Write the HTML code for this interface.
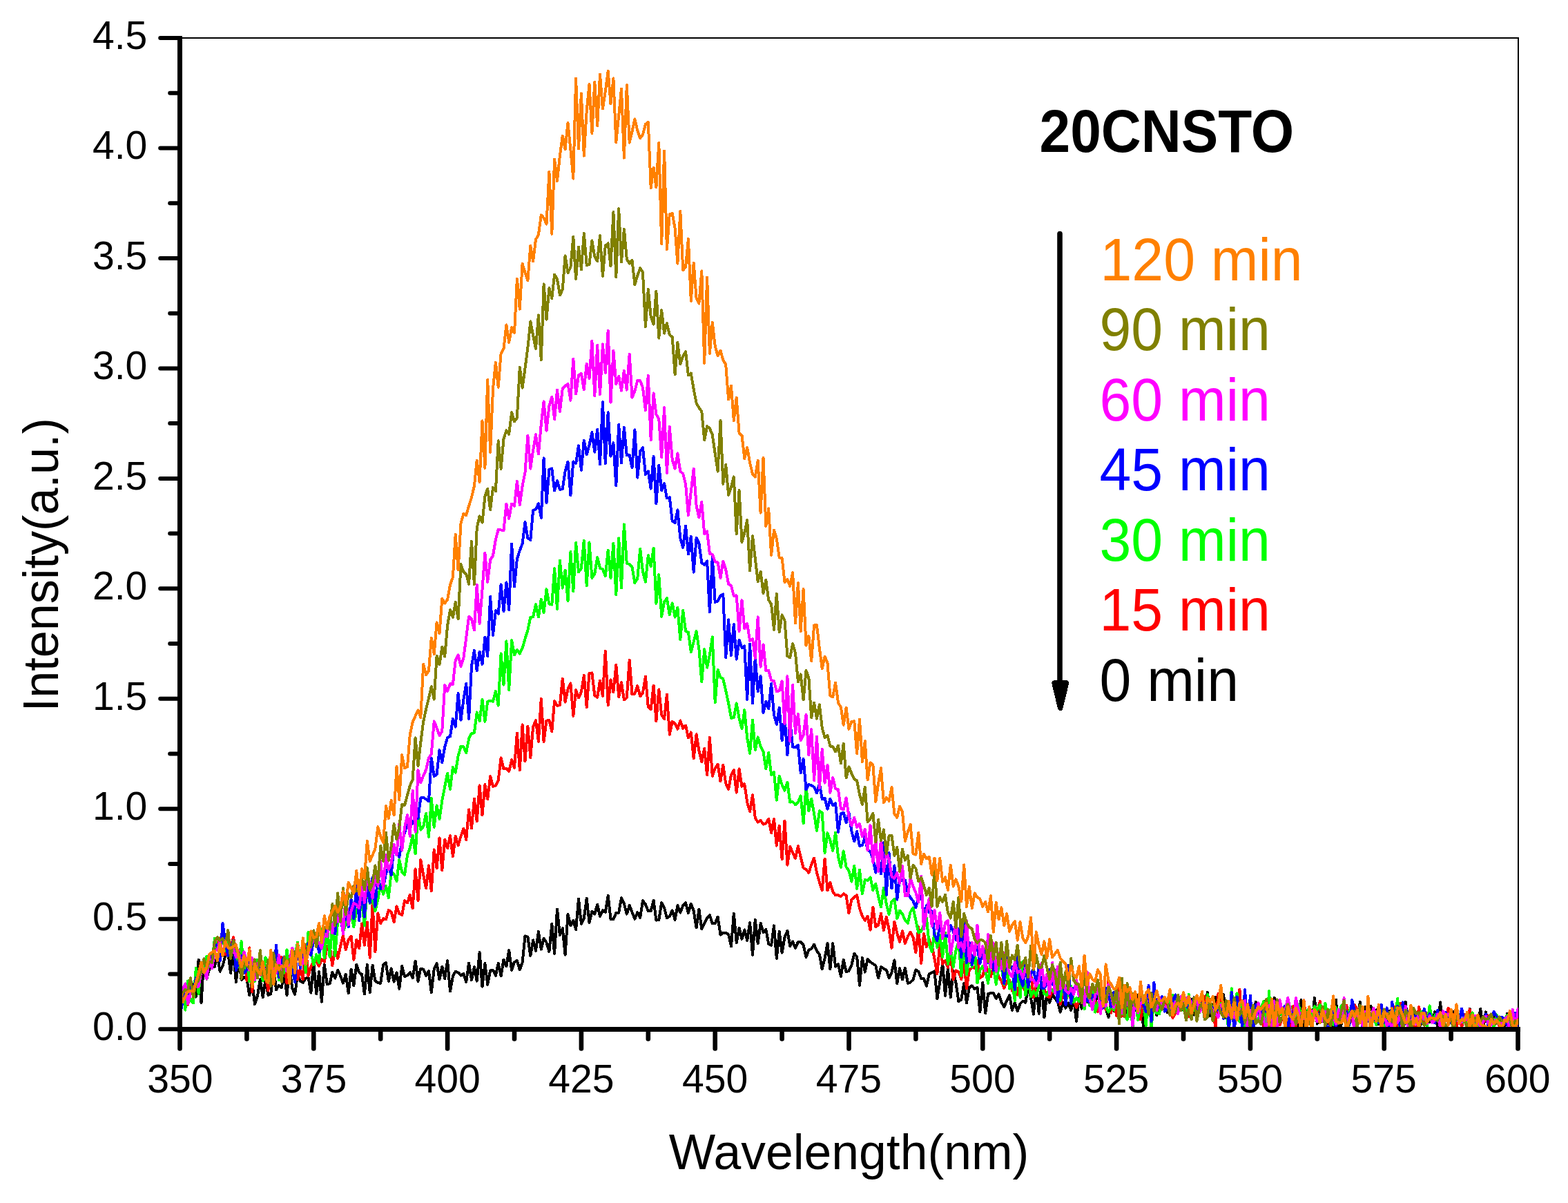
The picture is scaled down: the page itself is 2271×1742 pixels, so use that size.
<!DOCTYPE html>
<html lang="en"><head><meta charset="utf-8"><title>20CNSTO PL spectra</title>
<style>
html,body{margin:0;padding:0;background:#fff;}
body{width:2271px;height:1742px;overflow:hidden;}
svg{display:block;}
text{font-family:"Liberation Sans",Arial,Helvetica,sans-serif;}
</style></head><body>
<svg width="2271" height="1742" viewBox="0 0 2271 1742">
<rect width="2271" height="1742" fill="#fff"/>
<defs><clipPath id="c"><rect x="262" y="56" width="1937" height="1432"/></clipPath></defs>
<g shape-rendering="crispEdges" fill="#000">
<rect x="262" y="54" width="1938" height="2"/>
<rect x="2198" y="54" width="2" height="1436"/>
</g>
<g clip-path="url(#c)" shape-rendering="crispEdges">
<polyline points="260.5,1456.7 264.4,1434.6 268.3,1453.0 272.1,1435.5 276.0,1419.3 279.9,1430.5 283.8,1443.5 287.6,1389.8 291.5,1452.2 295.4,1388.4 299.3,1417.7 303.1,1403.1 307.0,1400.2 310.9,1399.9 314.8,1382.7 318.6,1406.8 322.5,1399.0 326.4,1383.6 330.3,1379.1 334.1,1409.3 338.0,1378.4 341.9,1422.4 345.8,1387.8 349.6,1418.8 353.5,1414.6 357.4,1417.0 361.3,1441.2 365.2,1421.8 369.0,1454.1 372.9,1442.6 376.8,1418.3 380.7,1444.0 384.5,1417.9 388.4,1440.9 392.3,1439.1 396.2,1398.5 400.0,1433.4 403.9,1426.8 407.8,1430.2 411.7,1407.8 415.5,1441.2 419.4,1401.9 423.3,1431.4 427.2,1439.7 431.0,1411.0 434.9,1420.9 438.8,1422.7 442.7,1416.8 446.5,1414.8 450.4,1437.6 454.3,1393.3 458.2,1439.5 462.1,1407.3 465.9,1450.6 469.8,1396.5 473.7,1425.1 477.6,1424.4 481.4,1407.8 485.3,1416.6 489.2,1404.9 493.1,1413.2 496.9,1423.6 500.8,1410.8 504.7,1438.0 508.6,1403.7 512.4,1427.2 516.3,1396.5 520.2,1408.5 524.1,1410.8 527.9,1439.4 531.8,1396.6 535.7,1437.1 539.6,1397.9 543.4,1420.3 547.3,1423.3 551.2,1423.7 555.1,1396.8 559.0,1394.1 562.8,1420.8 566.7,1402.4 570.6,1421.7 574.5,1408.4 578.3,1431.7 582.2,1398.9 586.1,1414.0 590.0,1412.4 593.8,1408.2 597.7,1415.9 601.6,1391.8 605.5,1420.9 609.3,1402.5 613.2,1403.6 617.1,1412.8 621.0,1406.2 624.8,1437.0 628.7,1403.5 632.6,1395.1 636.5,1418.4 640.3,1399.8 644.2,1417.1 648.1,1391.0 652.0,1435.6 655.9,1413.8 659.7,1406.8 663.6,1408.3 667.5,1412.5 671.4,1409.9 675.2,1421.9 679.1,1394.5 683.0,1419.2 686.9,1400.3 690.7,1420.5 694.6,1378.9 698.5,1428.7 702.4,1395.1 706.2,1425.9 710.1,1405.5 714.0,1404.8 717.9,1412.8 721.7,1395.2 725.6,1413.3 729.5,1389.7 733.4,1399.4 737.2,1376.1 741.1,1404.8 745.0,1393.3 748.9,1390.9 752.8,1404.4 756.6,1393.6 760.5,1355.3 764.4,1356.8 768.3,1383.9 772.1,1361.4 776.0,1376.8 779.9,1349.0 783.8,1374.7 787.6,1358.9 791.5,1364.8 795.4,1377.9 799.3,1337.8 803.1,1380.9 807.0,1316.6 810.9,1354.2 814.8,1344.3 818.6,1382.6 822.5,1323.9 826.4,1340.3 830.3,1332.9 834.1,1346.2 838.0,1301.8 841.9,1337.9 845.8,1329.8 849.7,1300.9 853.5,1336.2 857.4,1320.0 861.3,1323.6 865.2,1309.6 869.0,1327.1 872.9,1318.2 876.8,1320.9 880.7,1296.6 884.5,1331.2 888.4,1331.2 892.3,1322.2 896.2,1321.7 900.0,1300.1 903.9,1308.7 907.8,1323.5 911.7,1311.1 915.5,1320.9 919.4,1330.8 923.3,1321.3 927.2,1328.8 931.0,1304.2 934.9,1309.6 938.8,1319.3 942.7,1318.9 946.6,1303.7 950.4,1332.6 954.3,1332.1 958.2,1307.1 962.1,1314.4 965.9,1329.4 969.8,1326.6 973.7,1318.4 977.6,1331.9 981.4,1311.1 985.3,1321.6 989.2,1311.3 993.1,1307.3 996.9,1322.4 1000.8,1308.6 1004.7,1319.0 1008.6,1343.4 1012.4,1316.6 1016.3,1345.1 1020.2,1336.7 1024.1,1329.7 1027.9,1325.2 1031.8,1337.2 1035.7,1337.3 1039.6,1327.6 1043.5,1353.6 1047.3,1350.5 1051.2,1350.6 1055.1,1352.9 1059.0,1370.3 1062.8,1322.5 1066.7,1364.9 1070.6,1343.9 1074.5,1359.8 1078.3,1346.5 1082.2,1361.8 1086.1,1336.2 1090.0,1382.7 1093.8,1331.7 1097.7,1366.1 1101.6,1337.0 1105.5,1350.1 1109.3,1345.6 1113.2,1366.9 1117.1,1369.1 1121.0,1340.4 1124.8,1387.8 1128.7,1349.0 1132.6,1379.7 1136.5,1357.3 1140.4,1347.8 1144.2,1370.1 1148.1,1363.5 1152.0,1373.2 1155.9,1363.9 1159.7,1364.2 1163.6,1368.3 1167.5,1386.1 1171.4,1375.5 1175.2,1374.0 1179.1,1367.6 1183.0,1377.0 1186.9,1382.1 1190.7,1403.4 1194.6,1387.5 1198.5,1365.8 1202.4,1403.3 1206.2,1366.1 1210.1,1399.6 1214.0,1396.2 1217.9,1413.7 1221.7,1389.8 1225.6,1407.3 1229.5,1406.0 1233.4,1397.2 1237.3,1381.0 1241.1,1385.2 1245.0,1426.8 1248.9,1386.6 1252.8,1407.6 1256.6,1388.8 1260.5,1393.0 1264.4,1395.7 1268.3,1398.1 1272.1,1416.3 1276.0,1400.2 1279.9,1402.5 1283.8,1404.6 1287.6,1416.3 1291.5,1408.1 1295.4,1390.5 1299.3,1424.3 1303.1,1402.2 1307.0,1418.5 1310.9,1401.8 1314.8,1423.8 1318.6,1422.5 1322.5,1418.7 1326.4,1404.4 1330.3,1406.8 1334.2,1416.9 1338.0,1417.3 1341.9,1427.7 1345.8,1410.1 1349.7,1408.2 1353.5,1406.3 1357.4,1446.1 1361.3,1422.1 1365.2,1394.9 1369.0,1442.0 1372.9,1402.6 1376.8,1444.3 1380.7,1405.3 1384.5,1423.5 1388.4,1450.1 1392.3,1447.6 1396.2,1423.6 1400.0,1452.3 1403.9,1429.7 1407.8,1427.5 1411.7,1432.0 1415.5,1430.1 1419.4,1465.3 1423.3,1422.6 1427.2,1467.5 1431.1,1439.3 1434.9,1437.9 1438.8,1437.6 1442.7,1445.7 1446.6,1439.6 1450.4,1451.0 1454.3,1458.1 1458.2,1448.7 1462.1,1441.1 1465.9,1462.9 1469.8,1451.7 1473.7,1464.4 1477.6,1453.3 1481.4,1449.6 1485.3,1451.7 1489.2,1428.2 1493.1,1445.4 1496.9,1468.6 1500.8,1425.7 1504.7,1467.8 1508.6,1422.3 1512.4,1473.5 1516.3,1438.5 1520.2,1452.0 1524.1,1439.6 1528.0,1445.8 1531.8,1450.4 1535.7,1465.5 1539.6,1451.5 1543.5,1459.8 1547.3,1452.5 1551.2,1462.7 1555.1,1446.6 1559.0,1478.8 1562.8,1441.7 1566.7,1460.5 1570.6,1448.8 1574.5,1451.4 1578.3,1448.6 1582.2,1457.5 1586.1,1462.5 1590.0,1423.8 1593.8,1467.9 1597.7,1433.1 1601.6,1461.0 1605.5,1473.0 1609.3,1452.1 1613.2,1464.3 1617.1,1446.5 1621.0,1464.7 1624.9,1459.7 1628.7,1442.0 1632.6,1473.4 1636.5,1451.4 1640.4,1460.7 1644.2,1463.2 1648.1,1440.7 1652.0,1437.9 1655.9,1486.6 1659.7,1445.1 1663.6,1449.1 1667.5,1463.9 1671.4,1448.3 1675.2,1470.1 1679.1,1451.7 1683.0,1457.1 1686.9,1456.4 1690.7,1466.0 1694.6,1457.9 1698.5,1460.1 1702.4,1450.8 1706.2,1452.9 1710.1,1454.0 1714.0,1462.7 1717.9,1449.8 1721.8,1466.8 1725.6,1446.9 1729.5,1469.7 1733.4,1448.1 1737.3,1466.2 1741.1,1437.5 1745.0,1464.9 1748.9,1436.8 1752.8,1471.2 1756.6,1458.2 1760.5,1443.8 1764.4,1466.8 1768.3,1465.0 1772.1,1440.2 1776.0,1474.2 1779.9,1474.5 1783.8,1456.9 1787.6,1475.5 1791.5,1456.9 1795.4,1471.0 1799.3,1471.2 1803.1,1479.9 1807.0,1465.1 1810.9,1472.8 1814.8,1480.8 1818.7,1450.9 1822.5,1464.5 1826.4,1464.1 1830.3,1449.8 1834.2,1477.0 1838.0,1468.4 1841.9,1471.4 1845.8,1444.9 1849.7,1481.2 1853.5,1466.5 1857.4,1460.8 1861.3,1458.0 1865.2,1486.6 1869.0,1465.7 1872.9,1481.1 1876.8,1448.1 1880.7,1489.3 1884.5,1448.1 1888.4,1489.4 1892.3,1463.8 1896.2,1472.7 1900.0,1486.1 1903.9,1444.9 1907.8,1482.6 1911.7,1460.8 1915.6,1478.9 1919.4,1460.5 1923.3,1480.2 1927.2,1485.6 1931.1,1487.9 1934.9,1447.6 1938.8,1497.9 1942.7,1482.8 1946.6,1463.4 1950.4,1481.8 1954.3,1463.8 1958.2,1458.9 1962.1,1470.6 1965.9,1479.6 1969.8,1450.8 1973.7,1478.8 1977.6,1457.7 1981.4,1469.6 1985.3,1456.8 1989.2,1469.6 1993.1,1462.5 1996.9,1483.5 2000.8,1478.8 2004.7,1462.4 2008.6,1471.4 2012.5,1463.6 2016.3,1473.1 2020.2,1467.9 2024.1,1490.3 2028.0,1455.0 2031.8,1499.4 2035.7,1450.7 2039.6,1492.5 2043.5,1464.8 2047.3,1459.8 2051.2,1478.9 2055.1,1488.4 2059.0,1480.4 2062.8,1476.0 2066.7,1471.3 2070.6,1479.8 2074.5,1478.6 2078.3,1465.1 2082.2,1488.3 2086.1,1451.4 2090.0,1494.0 2093.8,1467.4 2097.7,1483.4 2101.6,1474.9 2105.5,1464.6 2109.4,1483.1 2113.2,1480.1 2117.1,1479.3 2121.0,1472.1 2124.9,1486.3 2128.7,1461.0 2132.6,1485.4 2136.5,1478.7 2140.4,1484.9 2144.2,1460.7 2148.1,1489.9 2152.0,1465.4 2155.9,1484.7 2159.7,1476.2 2163.6,1471.5 2167.5,1469.4 2171.4,1478.6 2175.2,1479.9 2179.1,1487.8 2183.0,1467.5 2186.9,1487.3 2190.7,1485.3 2194.6,1473.9 2198.5,1481.6" fill="none" stroke="#000000" stroke-width="4.0" stroke-linejoin="round" stroke-linecap="round"/>
<polyline points="260.5,1437.5 264.4,1451.2 268.3,1448.7 272.1,1454.7 276.0,1438.2 279.9,1435.5 283.8,1417.6 287.6,1408.5 291.5,1406.7 295.4,1407.6 299.3,1389.6 303.1,1394.1 307.0,1398.6 310.9,1373.2 314.8,1365.1 318.6,1361.2 322.5,1351.1 326.4,1382.0 330.3,1358.7 334.1,1373.5 338.0,1357.2 341.9,1378.2 345.8,1383.3 349.6,1393.2 353.5,1382.5 357.4,1419.8 361.3,1372.3 365.2,1436.1 369.0,1395.9 372.9,1400.9 376.8,1392.8 380.7,1406.8 384.5,1412.2 388.4,1434.0 392.3,1388.6 396.2,1414.1 400.0,1372.1 403.9,1412.9 407.8,1385.9 411.7,1394.4 415.5,1423.6 419.4,1384.6 423.3,1405.1 427.2,1380.7 431.0,1418.5 434.9,1402.7 438.8,1418.4 442.7,1368.3 446.5,1413.1 450.4,1399.2 454.3,1392.2 458.2,1392.0 462.1,1399.1 465.9,1389.1 469.8,1392.7 473.7,1370.1 477.6,1369.7 481.4,1398.1 485.3,1372.2 489.2,1388.0 493.1,1370.1 496.9,1354.5 500.8,1375.2 504.7,1361.0 508.6,1355.7 512.4,1389.8 516.3,1360.8 520.2,1373.5 524.1,1337.4 527.9,1368.6 531.8,1335.3 535.7,1386.8 539.6,1308.8 543.4,1378.4 547.3,1322.3 551.2,1337.4 555.1,1330.1 559.0,1331.4 562.8,1317.8 566.7,1320.5 570.6,1335.1 574.5,1312.5 578.3,1322.9 582.2,1325.1 586.1,1304.2 590.0,1307.4 593.8,1295.9 597.7,1315.2 601.6,1258.3 605.5,1304.2 609.3,1245.1 613.2,1267.2 617.1,1286.2 621.0,1253.4 624.8,1290.4 628.7,1230.4 632.6,1257.3 636.5,1213.4 640.3,1260.0 644.2,1215.5 648.1,1228.3 652.0,1210.0 655.9,1240.3 659.7,1211.0 663.6,1224.3 667.5,1210.8 671.4,1199.9 675.2,1216.2 679.1,1172.4 683.0,1199.4 686.9,1156.5 690.7,1189.5 694.6,1137.2 698.5,1180.5 702.4,1136.1 706.2,1157.4 710.1,1124.2 714.0,1138.8 717.9,1137.6 721.7,1129.9 725.6,1097.5 729.5,1113.4 733.4,1113.0 737.2,1117.0 741.1,1100.3 745.0,1111.9 748.9,1061.6 752.8,1115.0 756.6,1049.3 760.5,1102.5 764.4,1051.7 768.3,1097.4 772.1,1052.7 776.0,1043.3 779.9,1073.8 783.8,1011.9 787.6,1074.0 791.5,1043.6 795.4,1043.0 799.3,1059.1 803.1,1015.0 807.0,1021.7 810.9,1021.3 814.8,982.5 818.6,1016.8 822.5,997.8 826.4,989.5 830.3,1036.8 834.1,999.3 838.0,1010.5 841.9,1002.1 845.8,978.1 849.7,1024.1 853.5,974.8 857.4,974.5 861.3,1007.0 865.2,1009.8 869.0,985.6 872.9,1007.9 876.8,942.8 880.7,1021.3 884.5,984.5 888.4,1002.0 892.3,962.8 896.2,1009.3 900.0,988.1 903.9,1013.5 907.8,1010.2 911.7,955.8 915.5,1005.4 919.4,1004.5 923.3,993.2 927.2,1008.2 931.0,1003.4 934.9,979.5 938.8,1023.6 942.7,1027.2 946.6,992.7 950.4,1044.1 954.3,998.4 958.2,1035.2 962.1,1041.3 965.9,1005.5 969.8,1063.7 973.7,1044.8 977.6,1047.6 981.4,1055.7 985.3,1043.4 989.2,1054.7 993.1,1050.6 996.9,1068.5 1000.8,1060.5 1004.7,1098.4 1008.6,1063.2 1012.4,1087.0 1016.3,1103.4 1020.2,1083.9 1024.1,1122.3 1027.9,1067.8 1031.8,1123.8 1035.7,1112.5 1039.6,1106.8 1043.5,1131.3 1047.3,1107.6 1051.2,1134.3 1055.1,1143.0 1059.0,1122.0 1062.8,1115.3 1066.7,1147.7 1070.6,1113.5 1074.5,1138.8 1078.3,1135.3 1082.2,1161.8 1086.1,1175.2 1090.0,1151.2 1093.8,1184.8 1097.7,1190.6 1101.6,1188.1 1105.5,1193.5 1109.3,1192.3 1113.2,1185.6 1117.1,1206.2 1121.0,1186.0 1124.8,1224.6 1128.7,1196.0 1132.6,1244.2 1136.5,1188.6 1140.4,1252.6 1144.2,1225.8 1148.1,1235.0 1152.0,1243.1 1155.9,1225.3 1159.7,1241.2 1163.6,1256.7 1167.5,1259.1 1171.4,1263.7 1175.2,1252.0 1179.1,1242.5 1183.0,1263.8 1186.9,1277.4 1190.7,1289.1 1194.6,1243.6 1198.5,1289.5 1202.4,1277.9 1206.2,1291.1 1210.1,1296.5 1214.0,1296.3 1217.9,1298.0 1221.7,1294.2 1225.6,1296.9 1229.5,1322.4 1233.4,1302.7 1237.3,1299.2 1241.1,1296.1 1245.0,1315.5 1248.9,1326.8 1252.8,1332.8 1256.6,1326.8 1260.5,1346.6 1264.4,1313.7 1268.3,1342.1 1272.1,1339.4 1276.0,1322.8 1279.9,1347.2 1283.8,1328.1 1287.6,1345.7 1291.5,1372.8 1295.4,1334.6 1299.3,1351.4 1303.1,1363.9 1307.0,1348.1 1310.9,1366.2 1314.8,1356.2 1318.6,1349.6 1322.5,1357.4 1326.4,1379.5 1330.3,1342.4 1334.2,1394.9 1338.0,1352.0 1341.9,1371.2 1345.8,1360.4 1349.7,1369.5 1353.5,1388.3 1357.4,1410.4 1361.3,1365.3 1365.2,1395.8 1369.0,1391.3 1372.9,1400.8 1376.8,1382.5 1380.7,1418.7 1384.5,1405.3 1388.4,1407.3 1392.3,1418.0 1396.2,1393.2 1400.0,1431.5 1403.9,1404.5 1407.8,1401.3 1411.7,1401.6 1415.5,1391.1 1419.4,1416.1 1423.3,1413.3 1427.2,1396.7 1431.1,1405.9 1434.9,1414.4 1438.8,1400.4 1442.7,1401.1 1446.6,1414.8 1450.4,1420.2 1454.3,1430.9 1458.2,1420.8 1462.1,1419.1 1465.9,1434.7 1469.8,1421.2 1473.7,1440.5 1477.6,1417.2 1481.4,1428.2 1485.3,1435.5 1489.2,1425.3 1493.1,1410.6 1496.9,1444.1 1500.8,1423.0 1504.7,1429.6 1508.6,1427.4 1512.4,1432.6 1516.3,1442.2 1520.2,1444.3 1524.1,1435.3 1528.0,1428.5 1531.8,1418.9 1535.7,1454.5 1539.6,1438.1 1543.5,1434.9 1547.3,1429.1 1551.2,1449.4 1555.1,1448.6 1559.0,1458.8 1562.8,1449.0 1566.7,1433.7 1570.6,1450.5 1574.5,1433.3 1578.3,1452.4 1582.2,1444.4 1586.1,1449.0 1590.0,1464.7 1593.8,1438.8 1597.7,1447.6 1601.6,1462.2 1605.5,1420.4 1609.3,1466.6 1613.2,1440.6 1617.1,1471.1 1621.0,1430.7 1624.9,1471.6 1628.7,1456.9 1632.6,1452.4 1636.5,1459.7 1640.4,1463.9 1644.2,1445.1 1648.1,1447.7 1652.0,1476.4 1655.9,1451.4 1659.7,1469.7 1663.6,1442.5 1667.5,1464.4 1671.4,1458.3 1675.2,1464.9 1679.1,1454.5 1683.0,1445.6 1686.9,1464.3 1690.7,1448.1 1694.6,1445.8 1698.5,1473.9 1702.4,1467.3 1706.2,1465.4 1710.1,1452.2 1714.0,1453.3 1717.9,1454.5 1721.8,1472.1 1725.6,1452.6 1729.5,1459.7 1733.4,1450.1 1737.3,1459.3 1741.1,1453.2 1745.0,1443.4 1748.9,1469.8 1752.8,1456.2 1756.6,1463.8 1760.5,1487.4 1764.4,1439.1 1768.3,1458.3 1772.1,1464.8 1776.0,1459.2 1779.9,1473.9 1783.8,1466.3 1787.6,1451.1 1791.5,1476.7 1795.4,1432.7 1799.3,1484.1 1803.1,1443.1 1807.0,1482.1 1810.9,1447.9 1814.8,1468.6 1818.7,1468.2 1822.5,1466.9 1826.4,1469.9 1830.3,1486.7 1834.2,1458.0 1838.0,1477.8 1841.9,1446.9 1845.8,1474.5 1849.7,1462.1 1853.5,1484.3 1857.4,1473.8 1861.3,1465.2 1865.2,1488.1 1869.0,1485.3 1872.9,1457.2 1876.8,1487.9 1880.7,1462.8 1884.5,1494.2 1888.4,1448.3 1892.3,1482.9 1896.2,1460.0 1900.0,1465.2 1903.9,1462.7 1907.8,1465.2 1911.7,1450.1 1915.6,1472.1 1919.4,1481.0 1923.3,1470.9 1927.2,1487.6 1931.1,1444.2 1934.9,1480.3 1938.8,1466.4 1942.7,1475.9 1946.6,1474.4 1950.4,1456.1 1954.3,1482.8 1958.2,1476.2 1962.1,1455.3 1965.9,1462.5 1969.8,1471.4 1973.7,1476.5 1977.6,1481.7 1981.4,1461.8 1985.3,1473.7 1989.2,1459.6 1993.1,1481.4 1996.9,1480.5 2000.8,1481.8 2004.7,1462.2 2008.6,1473.6 2012.5,1468.7 2016.3,1484.6 2020.2,1457.5 2024.1,1489.3 2028.0,1452.6 2031.8,1464.4 2035.7,1472.6 2039.6,1487.0 2043.5,1460.2 2047.3,1486.0 2051.2,1490.3 2055.1,1458.1 2059.0,1477.3 2062.8,1481.9 2066.7,1466.7 2070.6,1470.7 2074.5,1475.4 2078.3,1472.6 2082.2,1464.7 2086.1,1481.1 2090.0,1476.0 2093.8,1474.4 2097.7,1459.6 2101.6,1479.4 2105.5,1469.5 2109.4,1487.3 2113.2,1470.1 2117.1,1487.8 2121.0,1469.1 2124.9,1489.3 2128.7,1461.3 2132.6,1478.9 2136.5,1477.0 2140.4,1476.9 2144.2,1487.1 2148.1,1481.2 2152.0,1476.7 2155.9,1470.7 2159.7,1473.6 2163.6,1487.4 2167.5,1475.1 2171.4,1485.7 2175.2,1477.8 2179.1,1483.0 2183.0,1471.7 2186.9,1474.2 2190.7,1480.9 2194.6,1469.5 2198.5,1477.3" fill="none" stroke="#ff0000" stroke-width="4.0" stroke-linejoin="round" stroke-linecap="round"/>
<polyline points="260.5,1445.7 264.4,1430.1 268.3,1462.6 272.1,1420.4 276.0,1448.9 279.9,1452.4 283.8,1402.1 287.6,1439.0 291.5,1397.6 295.4,1408.1 299.3,1384.6 303.1,1400.0 307.0,1395.2 310.9,1359.0 314.8,1373.8 318.6,1368.5 322.5,1357.5 326.4,1377.2 330.3,1354.2 334.1,1376.3 338.0,1369.8 341.9,1388.7 345.8,1399.6 349.6,1363.1 353.5,1403.5 357.4,1388.0 361.3,1421.0 365.2,1392.6 369.0,1420.8 372.9,1389.6 376.8,1401.2 380.7,1420.1 384.5,1386.3 388.4,1395.5 392.3,1410.8 396.2,1401.4 400.0,1387.8 403.9,1419.4 407.8,1413.3 411.7,1407.4 415.5,1375.4 419.4,1422.4 423.3,1386.8 427.2,1383.6 431.0,1364.6 434.9,1389.1 438.8,1364.3 442.7,1408.0 446.5,1349.7 450.4,1378.4 454.3,1397.4 458.2,1382.2 462.1,1394.2 465.9,1344.9 469.8,1387.5 473.7,1341.1 477.6,1385.6 481.4,1335.6 485.3,1384.3 489.2,1332.7 493.1,1327.6 496.9,1349.1 500.8,1338.0 504.7,1327.3 508.6,1324.3 512.4,1342.1 516.3,1318.6 520.2,1313.3 524.1,1305.9 527.9,1340.4 531.8,1283.2 535.7,1308.0 539.6,1300.0 543.4,1319.4 547.3,1302.5 551.2,1281.2 555.1,1294.6 559.0,1282.8 562.8,1299.9 566.7,1262.5 570.6,1265.4 574.5,1275.9 578.3,1245.1 582.2,1262.7 586.1,1266.9 590.0,1238.0 593.8,1227.9 597.7,1209.8 601.6,1236.4 605.5,1177.3 609.3,1201.7 613.2,1196.9 617.1,1177.7 621.0,1211.9 624.8,1156.0 628.7,1197.8 632.6,1166.5 636.5,1186.0 640.3,1159.4 644.2,1139.1 648.1,1119.8 652.0,1142.8 655.9,1110.7 659.7,1118.7 663.6,1094.8 667.5,1080.8 671.4,1081.2 675.2,1090.2 679.1,1069.7 683.0,1061.8 686.9,1061.4 690.7,1031.3 694.6,1044.3 698.5,1012.9 702.4,1044.9 706.2,1016.2 710.1,1014.6 714.0,1015.7 717.9,1000.7 721.7,1021.7 725.6,946.5 729.5,991.7 733.4,928.5 737.2,999.3 741.1,927.3 745.0,948.3 748.9,941.3 752.8,946.5 756.6,938.4 760.5,925.0 764.4,912.5 768.3,893.8 772.1,893.3 776.0,875.2 779.9,893.5 783.8,867.7 787.6,887.0 791.5,853.2 795.4,874.7 799.3,875.6 803.1,823.3 807.0,881.9 810.9,811.5 814.8,851.6 818.6,825.8 822.5,870.2 826.4,799.0 830.3,856.5 834.1,785.8 838.0,828.5 841.9,822.9 845.8,782.7 849.7,848.2 853.5,785.5 857.4,836.9 861.3,830.9 865.2,807.1 869.0,822.7 872.9,824.2 876.8,834.3 880.7,796.6 884.5,837.2 888.4,786.7 892.3,861.1 896.2,779.4 900.0,851.6 903.9,759.4 907.8,815.7 911.7,817.2 915.5,821.1 919.4,844.1 923.3,837.7 927.2,794.7 931.0,827.7 934.9,842.6 938.8,804.2 942.7,820.3 946.6,793.8 950.4,873.8 954.3,832.2 958.2,892.7 962.1,871.5 965.9,866.4 969.8,890.2 973.7,873.4 977.6,893.7 981.4,879.8 985.3,926.3 989.2,883.7 993.1,914.2 996.9,915.5 1000.8,944.0 1004.7,929.1 1008.6,914.1 1012.4,939.8 1016.3,987.1 1020.2,940.3 1024.1,966.6 1027.9,948.3 1031.8,922.3 1035.7,1017.5 1039.6,969.7 1043.5,981.1 1047.3,983.0 1051.2,1000.0 1055.1,1018.1 1059.0,1039.7 1062.8,1039.2 1066.7,1018.4 1070.6,1040.2 1074.5,1055.0 1078.3,1028.2 1082.2,1068.6 1086.1,1090.9 1090.0,1042.8 1093.8,1085.8 1097.7,1067.4 1101.6,1081.0 1105.5,1088.0 1109.3,1113.3 1113.2,1089.7 1117.1,1121.8 1121.0,1118.3 1124.8,1158.7 1128.7,1124.0 1132.6,1136.4 1136.5,1144.7 1140.4,1132.8 1144.2,1161.6 1148.1,1161.1 1152.0,1165.2 1155.9,1161.4 1159.7,1152.4 1163.6,1192.3 1167.5,1138.2 1171.4,1174.4 1175.2,1156.9 1179.1,1178.3 1183.0,1202.9 1186.9,1174.4 1190.7,1176.5 1194.6,1235.0 1198.5,1206.2 1202.4,1217.3 1206.2,1231.8 1210.1,1205.5 1214.0,1240.7 1217.9,1255.7 1221.7,1232.5 1225.6,1255.3 1229.5,1260.9 1233.4,1276.5 1237.3,1253.8 1241.1,1286.7 1245.0,1259.6 1248.9,1294.4 1252.8,1274.1 1256.6,1274.8 1260.5,1270.3 1264.4,1289.1 1268.3,1279.7 1272.1,1298.0 1276.0,1313.5 1279.9,1286.0 1283.8,1309.1 1287.6,1323.9 1291.5,1305.4 1295.4,1301.7 1299.3,1329.8 1303.1,1318.6 1307.0,1323.6 1310.9,1332.5 1314.8,1336.7 1318.6,1320.6 1322.5,1314.4 1326.4,1332.8 1330.3,1350.6 1334.2,1348.9 1338.0,1339.3 1341.9,1329.4 1345.8,1368.0 1349.7,1378.1 1353.5,1349.9 1357.4,1371.8 1361.3,1354.0 1365.2,1385.9 1369.0,1350.6 1372.9,1396.4 1376.8,1372.8 1380.7,1400.6 1384.5,1375.9 1388.4,1363.2 1392.3,1412.9 1396.2,1356.6 1400.0,1411.1 1403.9,1385.7 1407.8,1400.1 1411.7,1375.5 1415.5,1423.4 1419.4,1404.3 1423.3,1399.4 1427.2,1406.0 1431.1,1423.9 1434.9,1389.5 1438.8,1401.3 1442.7,1425.5 1446.6,1399.3 1450.4,1399.8 1454.3,1425.6 1458.2,1396.6 1462.1,1431.6 1465.9,1422.2 1469.8,1449.1 1473.7,1389.7 1477.6,1444.7 1481.4,1392.4 1485.3,1440.9 1489.2,1419.5 1493.1,1442.8 1496.9,1435.1 1500.8,1442.3 1504.7,1427.3 1508.6,1426.1 1512.4,1439.1 1516.3,1441.2 1520.2,1431.2 1524.1,1434.2 1528.0,1436.9 1531.8,1439.6 1535.7,1448.8 1539.6,1415.2 1543.5,1450.5 1547.3,1437.2 1551.2,1427.8 1555.1,1451.5 1559.0,1445.1 1562.8,1450.1 1566.7,1433.5 1570.6,1461.4 1574.5,1424.6 1578.3,1456.4 1582.2,1429.5 1586.1,1465.6 1590.0,1452.5 1593.8,1450.2 1597.7,1436.4 1601.6,1456.9 1605.5,1465.6 1609.3,1456.8 1613.2,1462.5 1617.1,1438.1 1621.0,1457.7 1624.9,1467.9 1628.7,1468.1 1632.6,1476.5 1636.5,1438.1 1640.4,1489.2 1644.2,1442.7 1648.1,1477.0 1652.0,1451.0 1655.9,1442.0 1659.7,1485.7 1663.6,1432.1 1667.5,1487.1 1671.4,1451.0 1675.2,1466.7 1679.1,1468.3 1683.0,1449.7 1686.9,1461.8 1690.7,1458.5 1694.6,1446.9 1698.5,1440.8 1702.4,1445.1 1706.2,1460.2 1710.1,1446.3 1714.0,1460.8 1717.9,1471.2 1721.8,1440.1 1725.6,1464.0 1729.5,1462.4 1733.4,1449.2 1737.3,1466.2 1741.1,1457.8 1745.0,1470.4 1748.9,1440.2 1752.8,1461.0 1756.6,1456.9 1760.5,1459.8 1764.4,1455.0 1768.3,1453.2 1772.1,1467.1 1776.0,1462.9 1779.9,1495.0 1783.8,1431.3 1787.6,1482.0 1791.5,1438.3 1795.4,1479.7 1799.3,1450.7 1803.1,1488.1 1807.0,1462.3 1810.9,1466.9 1814.8,1472.9 1818.7,1472.8 1822.5,1478.5 1826.4,1459.4 1830.3,1450.1 1834.2,1500.4 1838.0,1435.2 1841.9,1497.0 1845.8,1466.1 1849.7,1457.2 1853.5,1465.2 1857.4,1470.4 1861.3,1460.4 1865.2,1464.9 1869.0,1457.7 1872.9,1486.4 1876.8,1466.1 1880.7,1454.5 1884.5,1471.5 1888.4,1474.6 1892.3,1470.0 1896.2,1457.7 1900.0,1471.5 1903.9,1457.2 1907.8,1462.2 1911.7,1455.1 1915.6,1476.8 1919.4,1452.6 1923.3,1477.0 1927.2,1462.3 1931.1,1484.2 1934.9,1458.9 1938.8,1471.5 1942.7,1456.4 1946.6,1466.2 1950.4,1486.3 1954.3,1465.0 1958.2,1453.3 1962.1,1468.5 1965.9,1482.0 1969.8,1478.8 1973.7,1475.0 1977.6,1480.7 1981.4,1470.5 1985.3,1488.3 1989.2,1470.9 1993.1,1484.1 1996.9,1468.8 2000.8,1460.6 2004.7,1500.9 2008.6,1471.0 2012.5,1471.6 2016.3,1473.0 2020.2,1480.3 2024.1,1445.9 2028.0,1494.2 2031.8,1472.8 2035.7,1471.2 2039.6,1471.6 2043.5,1469.4 2047.3,1481.3 2051.2,1470.9 2055.1,1473.9 2059.0,1464.7 2062.8,1471.3 2066.7,1486.3 2070.6,1456.3 2074.5,1479.2 2078.3,1470.6 2082.2,1465.7 2086.1,1482.6 2090.0,1470.5 2093.8,1478.4 2097.7,1475.0 2101.6,1476.5 2105.5,1471.6 2109.4,1465.8 2113.2,1470.0 2117.1,1480.5 2121.0,1480.1 2124.9,1480.0 2128.7,1481.1 2132.6,1466.4 2136.5,1481.5 2140.4,1484.7 2144.2,1484.2 2148.1,1479.5 2152.0,1472.6 2155.9,1477.7 2159.7,1470.3 2163.6,1487.4 2167.5,1469.4 2171.4,1480.5 2175.2,1486.7 2179.1,1476.8 2183.0,1470.0 2186.9,1481.9 2190.7,1484.3 2194.6,1482.8 2198.5,1480.5" fill="none" stroke="#00ff00" stroke-width="4.0" stroke-linejoin="round" stroke-linecap="round"/>
<polyline points="260.5,1472.1 264.4,1450.5 268.3,1432.2 272.1,1446.5 276.0,1429.8 279.9,1440.4 283.8,1416.4 287.6,1416.2 291.5,1401.8 295.4,1405.3 299.3,1408.4 303.1,1393.2 307.0,1384.2 310.9,1369.5 314.8,1367.8 318.6,1391.2 322.5,1337.1 326.4,1363.5 330.3,1383.8 334.1,1374.7 338.0,1361.7 341.9,1405.0 345.8,1391.1 349.6,1384.0 353.5,1409.4 357.4,1404.5 361.3,1392.3 365.2,1397.5 369.0,1414.4 372.9,1396.7 376.8,1404.5 380.7,1410.7 384.5,1401.6 388.4,1412.6 392.3,1397.0 396.2,1421.1 400.0,1368.6 403.9,1415.3 407.8,1392.9 411.7,1385.5 415.5,1400.2 419.4,1406.2 423.3,1403.6 427.2,1422.2 431.0,1371.6 434.9,1401.9 438.8,1367.8 442.7,1387.9 446.5,1366.1 450.4,1383.1 454.3,1359.9 458.2,1355.6 462.1,1379.0 465.9,1371.0 469.8,1350.2 473.7,1343.6 477.6,1340.2 481.4,1339.4 485.3,1352.4 489.2,1308.0 493.1,1329.9 496.9,1349.2 500.8,1312.3 504.7,1341.9 508.6,1302.4 512.4,1330.5 516.3,1282.4 520.2,1333.3 524.1,1281.5 527.9,1327.6 531.8,1279.5 535.7,1307.0 539.6,1270.7 543.4,1312.8 547.3,1267.7 551.2,1287.1 555.1,1285.8 559.0,1264.5 562.8,1255.1 566.7,1266.9 570.6,1224.5 574.5,1233.0 578.3,1241.2 582.2,1217.4 586.1,1206.5 590.0,1190.6 593.8,1194.0 597.7,1192.6 601.6,1180.5 605.5,1184.8 609.3,1155.3 613.2,1155.0 617.1,1157.2 621.0,1160.3 624.8,1097.7 628.7,1124.1 632.6,1121.4 636.5,1086.2 640.3,1104.0 644.2,1081.5 648.1,1068.1 652.0,1066.5 655.9,1040.7 659.7,1052.5 663.6,1003.9 667.5,1042.7 671.4,1013.0 675.2,989.8 679.1,1040.9 683.0,964.7 686.9,942.0 690.7,971.0 694.6,943.7 698.5,961.8 702.4,922.8 706.2,950.2 710.1,863.8 714.0,919.7 717.9,884.3 721.7,888.8 725.6,846.5 729.5,885.1 733.4,843.4 737.2,883.5 741.1,787.7 745.0,849.3 748.9,809.3 752.8,797.2 756.6,787.3 760.5,756.0 764.4,779.1 768.3,782.1 772.1,738.9 776.0,737.3 779.9,729.1 783.8,749.8 787.6,663.3 791.5,728.1 795.4,679.7 799.3,678.5 803.1,710.5 807.0,696.0 810.9,708.9 814.8,708.1 818.6,682.1 822.5,668.7 826.4,717.3 830.3,668.4 834.1,671.1 838.0,645.4 841.9,680.8 845.8,637.5 849.7,658.4 853.5,644.5 857.4,626.1 861.3,654.7 865.2,621.5 869.0,672.3 872.9,582.2 876.8,671.2 880.7,597.2 884.5,660.7 888.4,641.2 892.3,703.4 896.2,615.0 900.0,670.2 903.9,618.9 907.8,659.3 911.7,658.5 915.5,677.1 919.4,622.4 923.3,691.6 927.2,653.0 931.0,648.5 934.9,687.0 938.8,682.5 942.7,707.7 946.6,661.0 950.4,729.4 954.3,673.8 958.2,710.3 962.1,700.1 965.9,721.5 969.8,720.2 973.7,754.4 977.6,757.1 981.4,738.4 985.3,779.5 989.2,792.9 993.1,761.5 996.9,802.5 1000.8,776.8 1004.7,828.7 1008.6,778.8 1012.4,786.8 1016.3,815.0 1020.2,818.0 1024.1,812.5 1027.9,886.4 1031.8,806.4 1035.7,871.9 1039.6,870.5 1043.5,862.3 1047.3,860.4 1051.2,952.3 1055.1,897.4 1059.0,949.1 1062.8,904.2 1066.7,954.7 1070.6,926.6 1074.5,938.1 1078.3,935.5 1082.2,1012.9 1086.1,932.4 1090.0,1018.5 1093.8,951.8 1097.7,1001.5 1101.6,979.0 1105.5,1032.2 1109.3,1015.7 1113.2,1026.5 1117.1,989.8 1121.0,1035.0 1124.8,1048.7 1128.7,1024.7 1132.6,1072.4 1136.5,1038.4 1140.4,1093.4 1144.2,1044.0 1148.1,1081.3 1152.0,1082.5 1155.9,1079.0 1159.7,1119.2 1163.6,1099.0 1167.5,1143.5 1171.4,1136.1 1175.2,1137.1 1179.1,1139.8 1183.0,1148.3 1186.9,1135.1 1190.7,1157.1 1194.6,1155.9 1198.5,1171.6 1202.4,1156.8 1206.2,1166.5 1210.1,1163.3 1214.0,1204.8 1217.9,1178.5 1221.7,1176.6 1225.6,1191.4 1229.5,1176.8 1233.4,1203.8 1237.3,1218.4 1241.1,1203.9 1245.0,1225.0 1248.9,1223.8 1252.8,1212.0 1256.6,1231.0 1260.5,1233.1 1264.4,1244.0 1268.3,1263.6 1272.1,1244.7 1276.0,1265.3 1279.9,1220.1 1283.8,1295.8 1287.6,1235.1 1291.5,1286.5 1295.4,1253.5 1299.3,1302.7 1303.1,1270.6 1307.0,1275.2 1310.9,1274.6 1314.8,1293.1 1318.6,1299.7 1322.5,1304.8 1326.4,1314.1 1330.3,1299.7 1334.2,1290.3 1338.0,1329.7 1341.9,1311.4 1345.8,1321.3 1349.7,1319.4 1353.5,1353.6 1357.4,1362.0 1361.3,1339.8 1365.2,1354.6 1369.0,1354.7 1372.9,1356.0 1376.8,1340.2 1380.7,1349.1 1384.5,1360.8 1388.4,1345.3 1392.3,1386.4 1396.2,1332.2 1400.0,1394.2 1403.9,1365.0 1407.8,1397.3 1411.7,1375.0 1415.5,1371.6 1419.4,1395.1 1423.3,1376.9 1427.2,1375.8 1431.1,1394.5 1434.9,1370.6 1438.8,1404.9 1442.7,1386.5 1446.6,1386.8 1450.4,1386.8 1454.3,1424.0 1458.2,1385.8 1462.1,1401.4 1465.9,1400.1 1469.8,1433.5 1473.7,1373.5 1477.6,1417.2 1481.4,1427.8 1485.3,1395.1 1489.2,1429.6 1493.1,1410.6 1496.9,1402.2 1500.8,1426.9 1504.7,1397.9 1508.6,1431.1 1512.4,1430.9 1516.3,1425.3 1520.2,1403.6 1524.1,1425.6 1528.0,1404.6 1531.8,1450.9 1535.7,1419.6 1539.6,1420.9 1543.5,1455.1 1547.3,1397.7 1551.2,1453.0 1555.1,1430.9 1559.0,1432.4 1562.8,1433.1 1566.7,1428.1 1570.6,1440.0 1574.5,1449.1 1578.3,1451.5 1582.2,1440.8 1586.1,1445.8 1590.0,1433.4 1593.8,1439.2 1597.7,1459.7 1601.6,1430.3 1605.5,1439.2 1609.3,1457.7 1613.2,1437.3 1617.1,1442.9 1621.0,1442.5 1624.9,1451.2 1628.7,1459.6 1632.6,1454.0 1636.5,1449.1 1640.4,1450.0 1644.2,1461.4 1648.1,1449.2 1652.0,1444.2 1655.9,1454.1 1659.7,1465.4 1663.6,1426.9 1667.5,1479.2 1671.4,1422.8 1675.2,1462.3 1679.1,1456.1 1683.0,1443.4 1686.9,1464.6 1690.7,1459.8 1694.6,1461.3 1698.5,1449.5 1702.4,1440.4 1706.2,1453.4 1710.1,1452.6 1714.0,1461.2 1717.9,1450.2 1721.8,1464.0 1725.6,1454.7 1729.5,1444.2 1733.4,1462.3 1737.3,1447.1 1741.1,1462.3 1745.0,1458.1 1748.9,1447.9 1752.8,1465.1 1756.6,1458.5 1760.5,1460.3 1764.4,1463.1 1768.3,1457.8 1772.1,1474.7 1776.0,1450.4 1779.9,1490.2 1783.8,1436.8 1787.6,1496.7 1791.5,1443.3 1795.4,1464.6 1799.3,1486.6 1803.1,1433.0 1807.0,1498.7 1810.9,1441.5 1814.8,1499.2 1818.7,1454.6 1822.5,1464.9 1826.4,1472.8 1830.3,1456.7 1834.2,1465.1 1838.0,1462.2 1841.9,1452.9 1845.8,1475.8 1849.7,1460.4 1853.5,1458.5 1857.4,1460.6 1861.3,1456.5 1865.2,1493.5 1869.0,1462.2 1872.9,1471.6 1876.8,1463.2 1880.7,1461.9 1884.5,1475.7 1888.4,1456.5 1892.3,1484.2 1896.2,1463.7 1900.0,1480.7 1903.9,1472.4 1907.8,1469.0 1911.7,1467.9 1915.6,1475.2 1919.4,1480.3 1923.3,1489.9 1927.2,1482.9 1931.1,1459.3 1934.9,1488.6 1938.8,1467.1 1942.7,1476.0 1946.6,1476.4 1950.4,1465.0 1954.3,1484.6 1958.2,1448.3 1962.1,1464.2 1965.9,1479.5 1969.8,1469.1 1973.7,1489.5 1977.6,1475.7 1981.4,1479.0 1985.3,1469.5 1989.2,1477.5 1993.1,1464.5 1996.9,1481.4 2000.8,1454.9 2004.7,1480.6 2008.6,1459.3 2012.5,1499.9 2016.3,1450.9 2020.2,1485.4 2024.1,1457.3 2028.0,1489.4 2031.8,1451.3 2035.7,1482.7 2039.6,1464.9 2043.5,1473.1 2047.3,1477.3 2051.2,1468.0 2055.1,1473.7 2059.0,1480.7 2062.8,1461.0 2066.7,1479.2 2070.6,1467.7 2074.5,1480.2 2078.3,1481.0 2082.2,1463.0 2086.1,1474.8 2090.0,1484.3 2093.8,1465.7 2097.7,1475.5 2101.6,1481.6 2105.5,1483.8 2109.4,1468.9 2113.2,1479.8 2117.1,1460.6 2121.0,1478.2 2124.9,1474.0 2128.7,1470.9 2132.6,1474.7 2136.5,1478.8 2140.4,1474.6 2144.2,1485.3 2148.1,1479.7 2152.0,1468.6 2155.9,1486.8 2159.7,1474.9 2163.6,1465.1 2167.5,1471.8 2171.4,1473.6 2175.2,1473.0 2179.1,1475.5 2183.0,1484.7 2186.9,1471.1 2190.7,1484.6 2194.6,1467.2 2198.5,1487.5" fill="none" stroke="#0000ff" stroke-width="4.0" stroke-linejoin="round" stroke-linecap="round"/>
<polyline points="260.5,1466.1 264.4,1433.4 268.3,1424.4 272.1,1453.4 276.0,1438.8 279.9,1435.1 283.8,1428.8 287.6,1428.7 291.5,1406.2 295.4,1403.1 299.3,1417.3 303.1,1386.8 307.0,1402.4 310.9,1377.1 314.8,1375.8 318.6,1362.8 322.5,1382.3 326.4,1363.8 330.3,1351.9 334.1,1383.6 338.0,1374.6 341.9,1386.3 345.8,1376.5 349.6,1404.7 353.5,1378.5 357.4,1393.2 361.3,1404.8 365.2,1387.3 369.0,1419.0 372.9,1395.4 376.8,1411.8 380.7,1407.1 384.5,1412.0 388.4,1392.9 392.3,1411.6 396.2,1400.6 400.0,1408.9 403.9,1383.1 407.8,1413.6 411.7,1389.1 415.5,1406.7 419.4,1390.7 423.3,1372.8 427.2,1389.1 431.0,1382.6 434.9,1382.7 438.8,1395.1 442.7,1381.0 446.5,1380.7 450.4,1368.3 454.3,1361.7 458.2,1364.8 462.1,1364.9 465.9,1373.1 469.8,1351.9 473.7,1356.1 477.6,1333.2 481.4,1351.1 485.3,1323.7 489.2,1334.6 493.1,1317.7 496.9,1352.4 500.8,1297.1 504.7,1338.9 508.6,1318.9 512.4,1307.8 516.3,1310.1 520.2,1314.9 524.1,1284.0 527.9,1307.0 531.8,1270.7 535.7,1277.4 539.6,1300.6 543.4,1268.1 547.3,1282.7 551.2,1246.5 555.1,1286.7 559.0,1237.8 562.8,1259.1 566.7,1250.1 570.6,1222.8 574.5,1238.4 578.3,1192.9 582.2,1231.5 586.1,1197.9 590.0,1180.3 593.8,1210.9 597.7,1144.6 601.6,1204.7 605.5,1115.2 609.3,1133.5 613.2,1123.3 617.1,1114.6 621.0,1097.4 624.8,1091.7 628.7,1044.4 632.6,1054.1 636.5,1065.0 640.3,1059.0 644.2,992.0 648.1,1000.8 652.0,990.2 655.9,991.1 659.7,955.9 663.6,948.4 667.5,965.0 671.4,953.0 675.2,923.4 679.1,892.9 683.0,896.6 686.9,912.5 690.7,846.8 694.6,903.1 698.5,854.4 702.4,800.6 706.2,842.7 710.1,810.7 714.0,804.6 717.9,781.1 721.7,767.0 725.6,767.5 729.5,768.0 733.4,729.6 737.2,750.7 741.1,729.6 745.0,732.9 748.9,696.8 752.8,731.3 756.6,703.7 760.5,683.9 764.4,630.8 768.3,678.7 772.1,652.2 776.0,629.0 779.9,657.5 783.8,614.4 787.6,581.2 791.5,623.7 795.4,587.8 799.3,574.7 803.1,607.1 807.0,564.5 810.9,595.7 814.8,562.8 818.6,558.8 822.5,555.8 826.4,579.8 830.3,519.6 834.1,570.5 838.0,543.3 841.9,540.9 845.8,564.1 849.7,526.6 853.5,547.9 857.4,493.6 861.3,573.1 865.2,499.9 869.0,571.2 872.9,498.4 876.8,539.9 880.7,478.5 884.5,582.8 888.4,507.6 892.3,555.9 896.2,544.9 900.0,565.6 903.9,536.8 907.8,564.6 911.7,512.7 915.5,575.8 919.4,566.2 923.3,550.8 927.2,551.3 931.0,561.3 934.9,594.1 938.8,543.7 942.7,637.4 946.6,569.4 950.4,599.9 954.3,606.7 958.2,662.3 962.1,590.3 965.9,684.9 969.8,618.1 973.7,665.7 977.6,678.7 981.4,656.5 985.3,682.6 989.2,685.9 993.1,701.4 996.9,746.4 1000.8,711.7 1004.7,679.0 1008.6,732.2 1012.4,749.4 1016.3,727.0 1020.2,773.1 1024.1,769.5 1027.9,801.7 1031.8,802.7 1035.7,813.2 1039.6,814.4 1043.5,836.9 1047.3,812.6 1051.2,824.8 1055.1,845.6 1059.0,848.0 1062.8,862.8 1066.7,862.3 1070.6,914.0 1074.5,869.2 1078.3,910.1 1082.2,903.3 1086.1,927.8 1090.0,925.3 1093.8,953.1 1097.7,893.3 1101.6,965.5 1105.5,933.5 1109.3,971.3 1113.2,971.0 1117.1,985.1 1121.0,986.2 1124.8,1001.1 1128.7,1000.3 1132.6,986.3 1136.5,1048.3 1140.4,979.2 1144.2,1073.4 1148.1,991.8 1152.0,1062.0 1155.9,1034.1 1159.7,1072.4 1163.6,1064.1 1167.5,1034.9 1171.4,1093.1 1175.2,1056.1 1179.1,1130.1 1183.0,1066.6 1186.9,1141.4 1190.7,1084.9 1194.6,1133.6 1198.5,1108.1 1202.4,1147.8 1206.2,1126.3 1210.1,1142.1 1214.0,1143.2 1217.9,1170.9 1221.7,1172.4 1225.6,1155.3 1229.5,1182.9 1233.4,1195.7 1237.3,1184.0 1241.1,1197.6 1245.0,1192.8 1248.9,1211.5 1252.8,1200.8 1256.6,1231.2 1260.5,1195.2 1264.4,1248.9 1268.3,1215.5 1272.1,1261.7 1276.0,1215.5 1279.9,1261.6 1283.8,1233.9 1287.6,1244.6 1291.5,1269.1 1295.4,1271.8 1299.3,1264.0 1303.1,1279.0 1307.0,1254.2 1310.9,1297.2 1314.8,1297.4 1318.6,1271.6 1322.5,1283.2 1326.4,1292.8 1330.3,1306.5 1334.2,1269.0 1338.0,1345.5 1341.9,1319.5 1345.8,1301.3 1349.7,1341.0 1353.5,1317.9 1357.4,1345.4 1361.3,1321.7 1365.2,1359.5 1369.0,1336.4 1372.9,1333.0 1376.8,1381.0 1380.7,1359.3 1384.5,1334.6 1388.4,1372.2 1392.3,1365.4 1396.2,1377.6 1400.0,1333.7 1403.9,1391.8 1407.8,1364.7 1411.7,1383.2 1415.5,1339.6 1419.4,1385.1 1423.3,1370.1 1427.2,1405.8 1431.1,1353.3 1434.9,1400.8 1438.8,1365.4 1442.7,1406.7 1446.6,1380.5 1450.4,1403.5 1454.3,1379.7 1458.2,1396.8 1462.1,1409.5 1465.9,1414.4 1469.8,1393.2 1473.7,1408.6 1477.6,1405.7 1481.4,1416.7 1485.3,1402.2 1489.2,1399.5 1493.1,1418.6 1496.9,1418.9 1500.8,1428.1 1504.7,1419.2 1508.6,1394.5 1512.4,1428.1 1516.3,1410.9 1520.2,1439.1 1524.1,1393.9 1528.0,1438.4 1531.8,1399.5 1535.7,1432.3 1539.6,1416.2 1543.5,1434.3 1547.3,1438.5 1551.2,1430.7 1555.1,1440.0 1559.0,1419.3 1562.8,1442.5 1566.7,1416.9 1570.6,1456.0 1574.5,1407.5 1578.3,1446.2 1582.2,1461.9 1586.1,1441.8 1590.0,1423.6 1593.8,1467.9 1597.7,1442.6 1601.6,1457.0 1605.5,1425.4 1609.3,1440.4 1613.2,1458.8 1617.1,1436.6 1621.0,1438.6 1624.9,1467.3 1628.7,1448.1 1632.6,1454.6 1636.5,1429.7 1640.4,1485.6 1644.2,1443.7 1648.1,1466.6 1652.0,1453.3 1655.9,1448.9 1659.7,1444.3 1663.6,1464.2 1667.5,1445.8 1671.4,1455.2 1675.2,1463.1 1679.1,1443.9 1683.0,1453.3 1686.9,1456.5 1690.7,1458.5 1694.6,1460.4 1698.5,1459.2 1702.4,1450.7 1706.2,1467.7 1710.1,1443.2 1714.0,1457.7 1717.9,1445.3 1721.8,1443.9 1725.6,1453.0 1729.5,1453.0 1733.4,1447.5 1737.3,1465.3 1741.1,1459.3 1745.0,1455.2 1748.9,1458.1 1752.8,1456.0 1756.6,1463.6 1760.5,1467.2 1764.4,1472.9 1768.3,1455.0 1772.1,1458.1 1776.0,1465.4 1779.9,1469.8 1783.8,1458.9 1787.6,1473.6 1791.5,1465.7 1795.4,1460.3 1799.3,1464.3 1803.1,1448.9 1807.0,1495.3 1810.9,1463.1 1814.8,1465.1 1818.7,1475.6 1822.5,1452.3 1826.4,1478.7 1830.3,1472.8 1834.2,1498.7 1838.0,1455.6 1841.9,1485.7 1845.8,1449.4 1849.7,1493.1 1853.5,1447.7 1857.4,1466.0 1861.3,1464.9 1865.2,1445.0 1869.0,1463.3 1872.9,1490.2 1876.8,1445.3 1880.7,1462.4 1884.5,1477.7 1888.4,1457.9 1892.3,1493.1 1896.2,1465.4 1900.0,1463.5 1903.9,1468.2 1907.8,1479.1 1911.7,1471.8 1915.6,1478.6 1919.4,1464.7 1923.3,1468.9 1927.2,1482.8 1931.1,1471.2 1934.9,1482.9 1938.8,1462.1 1942.7,1479.5 1946.6,1444.9 1950.4,1487.8 1954.3,1469.2 1958.2,1463.9 1962.1,1499.2 1965.9,1468.5 1969.8,1468.4 1973.7,1485.1 1977.6,1464.9 1981.4,1472.7 1985.3,1481.1 1989.2,1460.0 1993.1,1469.6 1996.9,1466.0 2000.8,1479.6 2004.7,1463.8 2008.6,1485.0 2012.5,1480.5 2016.3,1487.7 2020.2,1478.5 2024.1,1480.9 2028.0,1467.9 2031.8,1496.4 2035.7,1457.0 2039.6,1494.5 2043.5,1478.7 2047.3,1473.1 2051.2,1483.5 2055.1,1467.8 2059.0,1479.5 2062.8,1467.4 2066.7,1481.9 2070.6,1471.1 2074.5,1480.8 2078.3,1477.1 2082.2,1468.5 2086.1,1489.3 2090.0,1464.0 2093.8,1469.8 2097.7,1468.4 2101.6,1475.0 2105.5,1476.0 2109.4,1471.1 2113.2,1482.0 2117.1,1479.4 2121.0,1473.7 2124.9,1476.7 2128.7,1476.4 2132.6,1478.1 2136.5,1471.1 2140.4,1479.2 2144.2,1486.6 2148.1,1479.4 2152.0,1471.7 2155.9,1482.5 2159.7,1484.6 2163.6,1476.3 2167.5,1479.5 2171.4,1483.0 2175.2,1481.1 2179.1,1476.3 2183.0,1472.5 2186.9,1497.0 2190.7,1462.0 2194.6,1486.2 2198.5,1461.2" fill="none" stroke="#ff00ff" stroke-width="4.0" stroke-linejoin="round" stroke-linecap="round"/>
<polyline points="260.5,1452.7 264.4,1439.1 268.3,1432.8 272.1,1435.2 276.0,1416.1 279.9,1443.7 283.8,1424.6 287.6,1419.7 291.5,1405.9 295.4,1388.7 299.3,1402.8 303.1,1392.8 307.0,1393.7 310.9,1363.5 314.8,1357.3 318.6,1361.9 322.5,1359.0 326.4,1369.2 330.3,1347.1 334.1,1388.0 338.0,1362.1 341.9,1373.9 345.8,1379.8 349.6,1417.0 353.5,1394.8 357.4,1397.6 361.3,1401.5 365.2,1411.4 369.0,1389.4 372.9,1416.4 376.8,1376.2 380.7,1412.8 384.5,1417.5 388.4,1390.3 392.3,1427.8 396.2,1380.2 400.0,1403.7 403.9,1397.9 407.8,1421.7 411.7,1385.9 415.5,1398.9 419.4,1389.0 423.3,1399.0 427.2,1378.1 431.0,1384.3 434.9,1386.4 438.8,1370.6 442.7,1386.2 446.5,1369.3 450.4,1370.8 454.3,1347.4 458.2,1371.0 462.1,1345.7 465.9,1361.9 469.8,1344.3 473.7,1340.6 477.6,1345.5 481.4,1309.1 485.3,1340.4 489.2,1293.4 493.1,1334.3 496.9,1286.1 500.8,1324.3 504.7,1294.2 508.6,1299.7 512.4,1283.0 516.3,1289.9 520.2,1288.8 524.1,1272.1 527.9,1288.5 531.8,1256.4 535.7,1288.9 539.6,1278.8 543.4,1253.4 547.3,1277.5 551.2,1224.5 555.1,1246.7 559.0,1205.4 562.8,1245.8 566.7,1225.6 570.6,1193.0 574.5,1215.3 578.3,1197.9 582.2,1164.5 586.1,1166.0 590.0,1151.4 593.8,1137.6 597.7,1128.7 601.6,1068.2 605.5,1109.2 609.3,1075.0 613.2,1044.9 617.1,1026.8 621.0,1010.8 624.8,994.3 628.7,1012.5 632.6,949.7 636.5,962.3 640.3,936.9 644.2,950.6 648.1,905.8 652.0,883.1 655.9,894.0 659.7,871.9 663.6,896.2 667.5,817.1 671.4,828.3 675.2,831.4 679.1,845.6 683.0,784.0 686.9,846.1 690.7,764.9 694.6,747.3 698.5,756.6 702.4,718.9 706.2,707.8 710.1,738.2 714.0,705.9 717.9,711.4 721.7,638.2 725.6,679.1 729.5,635.5 733.4,623.3 737.2,628.8 741.1,597.3 745.0,610.3 748.9,605.1 752.8,531.5 756.6,561.8 760.5,533.3 764.4,503.5 768.3,465.3 772.1,485.7 776.0,504.8 779.9,456.4 783.8,521.3 787.6,411.4 791.5,462.6 795.4,417.0 799.3,432.2 803.1,397.5 807.0,404.3 810.9,427.5 814.8,419.3 818.6,370.3 822.5,395.1 826.4,387.2 830.3,342.7 834.1,403.9 838.0,357.5 841.9,390.4 845.8,338.1 849.7,384.1 853.5,382.9 857.4,348.4 861.3,371.6 865.2,378.2 869.0,341.2 872.9,399.7 876.8,355.8 880.7,352.4 884.5,385.3 888.4,307.1 892.3,401.3 896.2,302.1 900.0,379.3 903.9,331.8 907.8,375.3 911.7,381.6 915.5,376.7 919.4,412.1 923.3,398.9 927.2,388.3 931.0,394.4 934.9,473.2 938.8,418.8 942.7,458.5 946.6,469.5 950.4,421.9 954.3,489.6 958.2,449.3 962.1,482.6 965.9,468.1 969.8,484.9 973.7,488.1 977.6,542.4 981.4,495.8 985.3,527.1 989.2,515.8 993.1,509.3 996.9,543.5 1000.8,540.5 1004.7,563.7 1008.6,583.7 1012.4,590.4 1016.3,595.6 1020.2,637.3 1024.1,617.1 1027.9,620.3 1031.8,629.6 1035.7,656.8 1039.6,682.5 1043.5,608.7 1047.3,700.8 1051.2,672.8 1055.1,716.7 1059.0,705.1 1062.8,690.5 1066.7,773.4 1070.6,710.0 1074.5,785.3 1078.3,771.4 1082.2,753.2 1086.1,826.6 1090.0,776.0 1093.8,809.0 1097.7,842.2 1101.6,827.6 1105.5,859.0 1109.3,839.9 1113.2,868.7 1117.1,874.9 1121.0,911.9 1124.8,859.8 1128.7,915.2 1132.6,890.4 1136.5,898.5 1140.4,950.0 1144.2,952.4 1148.1,932.1 1152.0,945.6 1155.9,987.5 1159.7,976.4 1163.6,1013.5 1167.5,971.1 1171.4,981.7 1175.2,1039.5 1179.1,1017.6 1183.0,1040.6 1186.9,1020.4 1190.7,1053.8 1194.6,1068.2 1198.5,1065.2 1202.4,1080.7 1206.2,1081.1 1210.1,1088.5 1214.0,1079.6 1217.9,1105.5 1221.7,1076.8 1225.6,1126.2 1229.5,1110.3 1233.4,1120.1 1237.3,1128.1 1241.1,1130.3 1245.0,1150.4 1248.9,1164.8 1252.8,1139.6 1256.6,1190.3 1260.5,1185.9 1264.4,1177.7 1268.3,1219.4 1272.1,1186.9 1276.0,1217.2 1279.9,1201.4 1283.8,1236.6 1287.6,1210.2 1291.5,1209.8 1295.4,1238.9 1299.3,1227.0 1303.1,1261.8 1307.0,1229.7 1310.9,1245.6 1314.8,1238.8 1318.6,1271.6 1322.5,1252.9 1326.4,1257.5 1330.3,1276.2 1334.2,1270.8 1338.0,1282.0 1341.9,1296.2 1345.8,1285.9 1349.7,1312.7 1353.5,1258.5 1357.4,1312.8 1361.3,1299.1 1365.2,1306.0 1369.0,1295.7 1372.9,1321.6 1376.8,1329.5 1380.7,1306.0 1384.5,1343.1 1388.4,1299.3 1392.3,1356.3 1396.2,1322.8 1400.0,1336.4 1403.9,1342.6 1407.8,1345.0 1411.7,1360.3 1415.5,1365.6 1419.4,1361.4 1423.3,1361.5 1427.2,1365.3 1431.1,1392.6 1434.9,1354.9 1438.8,1389.5 1442.7,1364.8 1446.6,1398.2 1450.4,1364.9 1454.3,1405.8 1458.2,1362.7 1462.1,1400.8 1465.9,1383.4 1469.8,1390.3 1473.7,1368.6 1477.6,1401.3 1481.4,1397.3 1485.3,1387.0 1489.2,1415.0 1493.1,1369.7 1496.9,1404.4 1500.8,1382.8 1504.7,1401.3 1508.6,1400.5 1512.4,1384.0 1516.3,1401.3 1520.2,1417.7 1524.1,1396.8 1528.0,1409.5 1531.8,1433.4 1535.7,1393.7 1539.6,1430.0 1543.5,1407.0 1547.3,1432.7 1551.2,1387.7 1555.1,1419.5 1559.0,1425.0 1562.8,1425.5 1566.7,1452.2 1570.6,1399.2 1574.5,1438.2 1578.3,1445.0 1582.2,1424.8 1586.1,1436.3 1590.0,1419.0 1593.8,1445.9 1597.7,1432.9 1601.6,1451.1 1605.5,1428.8 1609.3,1438.4 1613.2,1454.3 1617.1,1429.6 1621.0,1482.5 1624.9,1416.5 1628.7,1472.0 1632.6,1423.9 1636.5,1471.9 1640.4,1438.6 1644.2,1455.7 1648.1,1458.9 1652.0,1435.9 1655.9,1449.2 1659.7,1446.0 1663.6,1468.5 1667.5,1438.2 1671.4,1464.2 1675.2,1449.5 1679.1,1454.1 1683.0,1462.2 1686.9,1447.6 1690.7,1449.9 1694.6,1470.4 1698.5,1461.1 1702.4,1465.7 1706.2,1440.7 1710.1,1463.2 1714.0,1453.1 1717.9,1477.5 1721.8,1459.5 1725.6,1476.4 1729.5,1444.3 1733.4,1478.7 1737.3,1458.8 1741.1,1452.7 1745.0,1476.4 1748.9,1472.6 1752.8,1446.6 1756.6,1478.3 1760.5,1461.8 1764.4,1454.8 1768.3,1467.1 1772.1,1472.7 1776.0,1448.9 1779.9,1461.3 1783.8,1475.3 1787.6,1445.0 1791.5,1468.6 1795.4,1470.3 1799.3,1460.5 1803.1,1480.8 1807.0,1460.0 1810.9,1488.2 1814.8,1456.0 1818.7,1481.7 1822.5,1477.5 1826.4,1483.0 1830.3,1464.0 1834.2,1447.0 1838.0,1486.3 1841.9,1456.3 1845.8,1473.9 1849.7,1447.5 1853.5,1480.4 1857.4,1472.6 1861.3,1466.9 1865.2,1454.4 1869.0,1469.0 1872.9,1468.7 1876.8,1483.0 1880.7,1472.6 1884.5,1473.3 1888.4,1458.7 1892.3,1469.5 1896.2,1483.4 1900.0,1479.3 1903.9,1468.1 1907.8,1471.9 1911.7,1473.6 1915.6,1457.9 1919.4,1486.0 1923.3,1461.9 1927.2,1485.3 1931.1,1469.7 1934.9,1474.8 1938.8,1482.2 1942.7,1464.2 1946.6,1448.4 1950.4,1503.1 1954.3,1476.1 1958.2,1469.4 1962.1,1464.2 1965.9,1489.2 1969.8,1455.6 1973.7,1473.8 1977.6,1471.1 1981.4,1461.3 1985.3,1469.4 1989.2,1471.5 1993.1,1474.4 1996.9,1478.3 2000.8,1476.0 2004.7,1461.5 2008.6,1473.8 2012.5,1466.2 2016.3,1479.1 2020.2,1467.0 2024.1,1470.1 2028.0,1457.4 2031.8,1496.9 2035.7,1462.9 2039.6,1468.9 2043.5,1500.0 2047.3,1459.7 2051.2,1468.5 2055.1,1466.0 2059.0,1478.4 2062.8,1484.7 2066.7,1476.3 2070.6,1476.2 2074.5,1474.7 2078.3,1476.0 2082.2,1477.7 2086.1,1469.0 2090.0,1471.8 2093.8,1491.4 2097.7,1478.5 2101.6,1474.4 2105.5,1493.4 2109.4,1467.6 2113.2,1480.1 2117.1,1477.4 2121.0,1476.2 2124.9,1489.5 2128.7,1469.8 2132.6,1485.0 2136.5,1473.9 2140.4,1475.1 2144.2,1479.1 2148.1,1472.5 2152.0,1476.4 2155.9,1474.3 2159.7,1468.5 2163.6,1481.7 2167.5,1481.8 2171.4,1472.4 2175.2,1477.7 2179.1,1480.0 2183.0,1478.9 2186.9,1470.2 2190.7,1492.2 2194.6,1478.2 2198.5,1482.2" fill="none" stroke="#808000" stroke-width="4.0" stroke-linejoin="round" stroke-linecap="round"/>
<polyline points="260.5,1424.3 264.4,1451.4 268.3,1442.7 272.1,1435.7 276.0,1435.2 279.9,1435.6 283.8,1422.2 287.6,1409.5 291.5,1393.4 295.4,1408.5 299.3,1400.8 303.1,1382.4 307.0,1378.9 310.9,1376.8 314.8,1391.1 318.6,1367.0 322.5,1384.1 326.4,1363.3 330.3,1372.5 334.1,1372.9 338.0,1370.7 341.9,1367.8 345.8,1386.1 349.6,1400.1 353.5,1384.0 357.4,1397.1 361.3,1374.6 365.2,1429.3 369.0,1395.7 372.9,1405.4 376.8,1411.0 380.7,1392.3 384.5,1418.4 388.4,1423.4 392.3,1375.7 396.2,1425.1 400.0,1396.8 403.9,1403.8 407.8,1399.0 411.7,1400.1 415.5,1391.5 419.4,1424.5 423.3,1375.9 427.2,1408.7 431.0,1366.5 434.9,1396.8 438.8,1358.3 442.7,1396.6 446.5,1377.7 450.4,1348.5 454.3,1357.9 458.2,1356.3 462.1,1336.7 465.9,1365.2 469.8,1326.2 473.7,1344.3 477.6,1326.9 481.4,1320.1 485.3,1311.8 489.2,1321.1 493.1,1313.9 496.9,1290.9 500.8,1310.1 504.7,1277.7 508.6,1285.5 512.4,1293.8 516.3,1261.0 520.2,1295.2 524.1,1258.0 527.9,1271.8 531.8,1217.8 535.7,1247.1 539.6,1238.2 543.4,1229.2 547.3,1197.3 551.2,1211.1 555.1,1220.3 559.0,1167.3 562.8,1185.3 566.7,1158.6 570.6,1180.4 574.5,1110.1 578.3,1158.1 582.2,1093.3 586.1,1112.5 590.0,1110.3 593.8,1063.7 597.7,1045.7 601.6,1036.8 605.5,1028.4 609.3,1039.2 613.2,961.7 617.1,977.4 621.0,971.2 624.8,923.6 628.7,947.1 632.6,901.3 636.5,917.2 640.3,866.8 644.2,873.5 648.1,868.2 652.0,846.8 655.9,835.9 659.7,774.0 663.6,825.5 667.5,757.8 671.4,743.8 675.2,746.3 679.1,732.5 683.0,720.4 686.9,703.8 690.7,666.7 694.6,698.1 698.5,609.5 702.4,677.9 706.2,549.5 710.1,654.9 714.0,563.2 717.9,524.7 721.7,560.8 725.6,511.8 729.5,504.8 733.4,470.4 737.2,495.8 741.1,474.2 745.0,482.1 748.9,403.8 752.8,447.7 756.6,382.0 760.5,395.0 764.4,406.0 768.3,356.1 772.1,378.4 776.0,346.7 779.9,340.1 783.8,311.4 787.6,315.5 791.5,324.7 795.4,248.8 799.3,338.8 803.1,230.6 807.0,262.1 810.9,225.6 814.8,196.5 818.6,216.3 822.5,177.8 826.4,216.6 830.3,258.7 834.1,113.6 838.0,215.4 841.9,135.4 845.8,225.7 849.7,160.7 853.5,121.9 857.4,193.1 861.3,118.7 865.2,182.5 869.0,107.7 872.9,157.5 876.8,132.4 880.7,103.0 884.5,150.5 888.4,113.5 892.3,206.2 896.2,167.4 900.0,128.4 903.9,228.7 907.8,123.2 911.7,206.6 915.5,190.4 919.4,172.4 923.3,189.1 927.2,200.1 931.0,195.0 934.9,179.9 938.8,176.9 942.7,271.9 946.6,242.7 950.4,271.3 954.3,206.7 958.2,353.5 962.1,218.4 965.9,361.0 969.8,310.4 973.7,308.8 977.6,330.3 981.4,381.6 985.3,305.9 989.2,391.2 993.1,386.7 996.9,346.0 1000.8,435.8 1004.7,380.7 1008.6,432.2 1012.4,439.5 1016.3,392.3 1020.2,525.8 1024.1,401.6 1027.9,511.8 1031.8,467.0 1035.7,501.0 1039.6,515.4 1043.5,507.7 1047.3,521.4 1051.2,527.7 1055.1,578.5 1059.0,558.7 1062.8,609.0 1066.7,576.0 1070.6,627.1 1074.5,630.6 1078.3,664.0 1082.2,648.1 1086.1,670.3 1090.0,686.3 1093.8,690.5 1097.7,667.1 1101.6,742.5 1105.5,662.8 1109.3,761.9 1113.2,736.4 1117.1,803.9 1121.0,767.5 1124.8,779.9 1128.7,807.5 1132.6,808.0 1136.5,843.1 1140.4,838.9 1144.2,848.9 1148.1,829.3 1152.0,902.5 1155.9,844.3 1159.7,914.1 1163.6,853.0 1167.5,934.7 1171.4,921.1 1175.2,957.2 1179.1,905.4 1183.0,905.2 1186.9,938.9 1190.7,968.0 1194.6,950.6 1198.5,960.3 1202.4,1007.6 1206.2,1009.3 1210.1,988.6 1214.0,1017.6 1217.9,1024.0 1221.7,1049.8 1225.6,1024.8 1229.5,1055.8 1233.4,1044.8 1237.3,1044.3 1241.1,1091.1 1245.0,1041.6 1248.9,1103.2 1252.8,1073.2 1256.6,1129.4 1260.5,1104.3 1264.4,1107.7 1268.3,1160.9 1272.1,1134.5 1276.0,1112.3 1279.9,1162.2 1283.8,1154.9 1287.6,1159.9 1291.5,1139.8 1295.4,1178.7 1299.3,1183.6 1303.1,1167.6 1307.0,1176.0 1310.9,1217.9 1314.8,1204.9 1318.6,1193.7 1322.5,1235.9 1326.4,1237.6 1330.3,1205.8 1334.2,1251.4 1338.0,1236.5 1341.9,1243.2 1345.8,1240.6 1349.7,1266.8 1353.5,1242.6 1357.4,1275.3 1361.3,1242.8 1365.2,1276.8 1369.0,1270.3 1372.9,1288.9 1376.8,1252.5 1380.7,1283.7 1384.5,1273.2 1388.4,1283.9 1392.3,1305.5 1396.2,1252.4 1400.0,1313.0 1403.9,1283.7 1407.8,1315.1 1411.7,1293.4 1415.5,1299.1 1419.4,1301.8 1423.3,1312.7 1427.2,1305.9 1431.1,1320.5 1434.9,1297.3 1438.8,1349.7 1442.7,1306.9 1446.6,1331.4 1450.4,1314.2 1454.3,1340.4 1458.2,1323.2 1462.1,1349.0 1465.9,1339.9 1469.8,1334.2 1473.7,1361.7 1477.6,1335.0 1481.4,1358.5 1485.3,1365.1 1489.2,1356.4 1493.1,1328.5 1496.9,1402.4 1500.8,1349.4 1504.7,1369.4 1508.6,1381.8 1512.4,1363.2 1516.3,1387.3 1520.2,1360.2 1524.1,1386.4 1528.0,1380.9 1531.8,1375.8 1535.7,1387.7 1539.6,1392.0 1543.5,1395.8 1547.3,1417.8 1551.2,1398.6 1555.1,1411.9 1559.0,1415.8 1562.8,1399.3 1566.7,1428.7 1570.6,1383.6 1574.5,1426.5 1578.3,1410.3 1582.2,1418.4 1586.1,1420.9 1590.0,1404.4 1593.8,1410.8 1597.7,1457.5 1601.6,1396.5 1605.5,1419.8 1609.3,1425.0 1613.2,1432.2 1617.1,1430.9 1621.0,1415.6 1624.9,1459.4 1628.7,1426.9 1632.6,1436.3 1636.5,1430.2 1640.4,1447.7 1644.2,1436.2 1648.1,1464.6 1652.0,1421.7 1655.9,1452.4 1659.7,1438.1 1663.6,1433.0 1667.5,1458.4 1671.4,1449.8 1675.2,1434.6 1679.1,1449.0 1683.0,1449.5 1686.9,1444.3 1690.7,1451.6 1694.6,1433.1 1698.5,1470.4 1702.4,1455.4 1706.2,1452.5 1710.1,1457.9 1714.0,1436.9 1717.9,1456.2 1721.8,1443.0 1725.6,1467.4 1729.5,1455.5 1733.4,1441.4 1737.3,1452.2 1741.1,1435.8 1745.0,1471.8 1748.9,1444.7 1752.8,1450.7 1756.6,1442.9 1760.5,1462.7 1764.4,1453.7 1768.3,1427.0 1772.1,1464.4 1776.0,1471.9 1779.9,1449.9 1783.8,1473.6 1787.6,1451.7 1791.5,1476.9 1795.4,1452.1 1799.3,1449.3 1803.1,1473.9 1807.0,1454.4 1810.9,1474.4 1814.8,1475.3 1818.7,1464.4 1822.5,1458.2 1826.4,1461.5 1830.3,1455.9 1834.2,1452.7 1838.0,1483.6 1841.9,1446.4 1845.8,1490.7 1849.7,1451.8 1853.5,1467.8 1857.4,1459.6 1861.3,1489.1 1865.2,1457.8 1869.0,1471.9 1872.9,1476.2 1876.8,1459.8 1880.7,1472.1 1884.5,1493.2 1888.4,1448.9 1892.3,1496.6 1896.2,1457.6 1900.0,1491.5 1903.9,1462.2 1907.8,1468.0 1911.7,1481.2 1915.6,1462.4 1919.4,1475.2 1923.3,1479.8 1927.2,1473.0 1931.1,1442.4 1934.9,1479.1 1938.8,1480.6 1942.7,1481.5 1946.6,1470.5 1950.4,1494.1 1954.3,1476.0 1958.2,1463.6 1962.1,1472.8 1965.9,1462.5 1969.8,1480.9 1973.7,1457.9 1977.6,1502.0 1981.4,1442.7 1985.3,1501.7 1989.2,1465.8 1993.1,1478.8 1996.9,1454.7 2000.8,1493.2 2004.7,1465.2 2008.6,1468.1 2012.5,1479.1 2016.3,1460.2 2020.2,1486.8 2024.1,1459.2 2028.0,1460.4 2031.8,1470.9 2035.7,1481.4 2039.6,1479.0 2043.5,1455.7 2047.3,1482.9 2051.2,1474.5 2055.1,1488.2 2059.0,1466.8 2062.8,1466.7 2066.7,1480.6 2070.6,1474.7 2074.5,1473.9 2078.3,1475.7 2082.2,1474.3 2086.1,1466.4 2090.0,1487.8 2093.8,1468.7 2097.7,1484.5 2101.6,1462.0 2105.5,1483.2 2109.4,1454.4 2113.2,1481.7 2117.1,1475.9 2121.0,1478.2 2124.9,1465.6 2128.7,1487.4 2132.6,1469.3 2136.5,1497.4 2140.4,1469.9 2144.2,1483.0 2148.1,1485.1 2152.0,1486.5 2155.9,1489.0 2159.7,1475.7 2163.6,1482.7 2167.5,1477.3 2171.4,1482.3 2175.2,1490.1 2179.1,1477.0 2183.0,1478.9 2186.9,1464.0 2190.7,1483.8 2194.6,1489.1 2198.5,1477.3" fill="none" stroke="#ff8000" stroke-width="4.0" stroke-linejoin="round" stroke-linecap="round"/>
</g>
<g fill="#000" shape-rendering="crispEdges">
<rect x="257" y="52" width="7" height="1442"/>
<rect x="257" y="1487" width="1945" height="6.6"/>
</g>
<g stroke="#000" stroke-width="6.6" stroke-linecap="round" fill="none">
<line x1="232.2" y1="1490.2" x2="260.5" y2="1490.2" stroke-width="6"/>
<line x1="246.2" y1="1410.5" x2="260.5" y2="1410.5" stroke-width="6"/>
<line x1="232.2" y1="1330.7" x2="260.5" y2="1330.7" stroke-width="6"/>
<line x1="246.2" y1="1251.0" x2="260.5" y2="1251.0" stroke-width="6"/>
<line x1="232.2" y1="1171.3" x2="260.5" y2="1171.3" stroke-width="6"/>
<line x1="246.2" y1="1091.5" x2="260.5" y2="1091.5" stroke-width="6"/>
<line x1="232.2" y1="1011.8" x2="260.5" y2="1011.8" stroke-width="6"/>
<line x1="246.2" y1="932.1" x2="260.5" y2="932.1" stroke-width="6"/>
<line x1="232.2" y1="852.3" x2="260.5" y2="852.3" stroke-width="6"/>
<line x1="246.2" y1="772.6" x2="260.5" y2="772.6" stroke-width="6"/>
<line x1="232.2" y1="692.9" x2="260.5" y2="692.9" stroke-width="6"/>
<line x1="246.2" y1="613.1" x2="260.5" y2="613.1" stroke-width="6"/>
<line x1="232.2" y1="533.4" x2="260.5" y2="533.4" stroke-width="6"/>
<line x1="246.2" y1="453.7" x2="260.5" y2="453.7" stroke-width="6"/>
<line x1="232.2" y1="373.9" x2="260.5" y2="373.9" stroke-width="6"/>
<line x1="246.2" y1="294.2" x2="260.5" y2="294.2" stroke-width="6"/>
<line x1="232.2" y1="214.5" x2="260.5" y2="214.5" stroke-width="6"/>
<line x1="246.2" y1="134.7" x2="260.5" y2="134.7" stroke-width="6"/>
<line x1="232.2" y1="55.0" x2="260.5" y2="55.0" stroke-width="6"/>
<line x1="260.5" y1="1490.2" x2="260.5" y2="1518.5"/>
<line x1="357.4" y1="1490.2" x2="357.4" y2="1504.5"/>
<line x1="454.3" y1="1490.2" x2="454.3" y2="1518.5"/>
<line x1="551.2" y1="1490.2" x2="551.2" y2="1504.5"/>
<line x1="648.1" y1="1490.2" x2="648.1" y2="1518.5"/>
<line x1="745.0" y1="1490.2" x2="745.0" y2="1504.5"/>
<line x1="841.9" y1="1490.2" x2="841.9" y2="1518.5"/>
<line x1="938.8" y1="1490.2" x2="938.8" y2="1504.5"/>
<line x1="1035.7" y1="1490.2" x2="1035.7" y2="1518.5"/>
<line x1="1132.6" y1="1490.2" x2="1132.6" y2="1504.5"/>
<line x1="1229.5" y1="1490.2" x2="1229.5" y2="1518.5"/>
<line x1="1326.4" y1="1490.2" x2="1326.4" y2="1504.5"/>
<line x1="1423.3" y1="1490.2" x2="1423.3" y2="1518.5"/>
<line x1="1520.2" y1="1490.2" x2="1520.2" y2="1504.5"/>
<line x1="1617.1" y1="1490.2" x2="1617.1" y2="1518.5"/>
<line x1="1714.0" y1="1490.2" x2="1714.0" y2="1504.5"/>
<line x1="1810.9" y1="1490.2" x2="1810.9" y2="1518.5"/>
<line x1="1907.8" y1="1490.2" x2="1907.8" y2="1504.5"/>
<line x1="2004.7" y1="1490.2" x2="2004.7" y2="1518.5"/>
<line x1="2101.6" y1="1490.2" x2="2101.6" y2="1504.5"/>
<line x1="2198.5" y1="1490.2" x2="2198.5" y2="1518.5"/>
</g>
<text transform="translate(213.40,1506.00) scale(0.99,1)" font-size="57.7" text-anchor="end" fill="#000">0.0</text>
<text transform="translate(213.40,1346.54) scale(0.99,1)" font-size="57.7" text-anchor="end" fill="#000">0.5</text>
<text transform="translate(213.40,1187.07) scale(0.99,1)" font-size="57.7" text-anchor="end" fill="#000">1.0</text>
<text transform="translate(213.40,1027.61) scale(0.99,1)" font-size="57.7" text-anchor="end" fill="#000">1.5</text>
<text transform="translate(213.40,868.14) scale(0.99,1)" font-size="57.7" text-anchor="end" fill="#000">2.0</text>
<text transform="translate(213.40,708.67) scale(0.99,1)" font-size="57.7" text-anchor="end" fill="#000">2.5</text>
<text transform="translate(213.40,549.21) scale(0.99,1)" font-size="57.7" text-anchor="end" fill="#000">3.0</text>
<text transform="translate(213.40,389.74) scale(0.99,1)" font-size="57.7" text-anchor="end" fill="#000">3.5</text>
<text transform="translate(213.40,230.28) scale(0.99,1)" font-size="57.7" text-anchor="end" fill="#000">4.0</text>
<text transform="translate(213.40,70.82) scale(0.99,1)" font-size="57.7" text-anchor="end" fill="#000">4.5</text>
<text transform="translate(260.80,1581.90) scale(0.99,1)" font-size="57.7" text-anchor="middle" fill="#000">350</text>
<text transform="translate(454.50,1581.90) scale(0.99,1)" font-size="57.7" text-anchor="middle" fill="#000">375</text>
<text transform="translate(648.20,1581.90) scale(0.99,1)" font-size="57.7" text-anchor="middle" fill="#000">400</text>
<text transform="translate(841.90,1581.90) scale(0.99,1)" font-size="57.7" text-anchor="middle" fill="#000">425</text>
<text transform="translate(1035.60,1581.90) scale(0.99,1)" font-size="57.7" text-anchor="middle" fill="#000">450</text>
<text transform="translate(1229.30,1581.90) scale(0.99,1)" font-size="57.7" text-anchor="middle" fill="#000">475</text>
<text transform="translate(1423.00,1581.90) scale(0.99,1)" font-size="57.7" text-anchor="middle" fill="#000">500</text>
<text transform="translate(1616.70,1581.90) scale(0.99,1)" font-size="57.7" text-anchor="middle" fill="#000">525</text>
<text transform="translate(1810.40,1581.90) scale(0.99,1)" font-size="57.7" text-anchor="middle" fill="#000">550</text>
<text transform="translate(2004.10,1581.90) scale(0.99,1)" font-size="57.7" text-anchor="middle" fill="#000">575</text>
<text transform="translate(2197.80,1581.90) scale(0.99,1)" font-size="57.7" text-anchor="middle" fill="#000">600</text>
<text transform="translate(1229.50,1693.40) scale(0.9856,1)" font-size="72.5" text-anchor="middle" fill="#000">Wavelength(nm)</text>
<text transform="translate(84.00,817.70) rotate(-90) scale(0.9686,1)" font-size="72.5" text-anchor="middle" fill="#000">Intensity(a.u.)</text>
<text transform="translate(1505.50,219.80) scale(0.925,1)" font-size="86.8" text-anchor="start" fill="#000" font-weight="bold">20CNSTO</text>
<text transform="translate(1593.50,405.90) scale(0.9385,1)" font-size="87.8" text-anchor="start" fill="#ff8000">120 min</text>
<text transform="translate(1592.50,507.30) scale(0.9385,1)" font-size="87.8" text-anchor="start" fill="#808000">90 min</text>
<text transform="translate(1592.50,608.80) scale(0.9385,1)" font-size="87.8" text-anchor="start" fill="#ff00ff">60 min</text>
<text transform="translate(1592.50,710.30) scale(0.9385,1)" font-size="87.8" text-anchor="start" fill="#0000ff">45 min</text>
<text transform="translate(1592.50,811.80) scale(0.9385,1)" font-size="87.8" text-anchor="start" fill="#00ff00">30 min</text>
<text transform="translate(1592.50,913.40) scale(0.9385,1)" font-size="87.8" text-anchor="start" fill="#ff0000">15 min</text>
<text transform="translate(1592.50,1015.00) scale(0.9385,1)" font-size="87.8" text-anchor="start" fill="#000000">0 min</text>
<line x1="1535" y1="338.5" x2="1535" y2="990" stroke="#000" stroke-width="7.6" stroke-linecap="round"/>
<polygon points="1527.1,989 1544.4,989 1535.7,1025" fill="#000" stroke="#000" stroke-width="7.6" stroke-linejoin="round" shape-rendering="crispEdges"/>
</svg></body></html>
